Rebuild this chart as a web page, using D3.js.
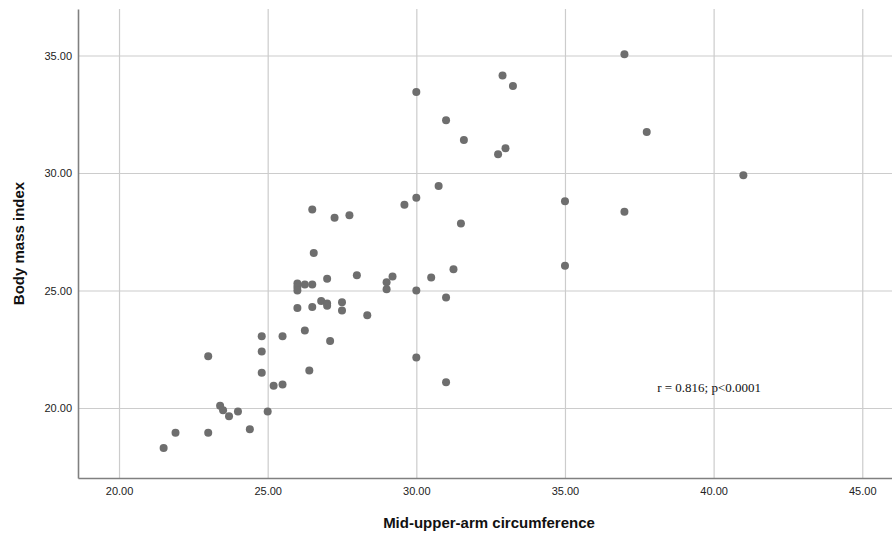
<!DOCTYPE html>
<html>
<head>
<meta charset="utf-8">
<script src="https://cdn.jsdelivr.net/npm/d3@7"></script>
<style>
  body { margin: 0; background: #fff; }
  svg { display: block; }
</style>
</head>
<body>
<div id="container"></div>
<script>

// mid-upper-arm circumference (cm) for each subject
var muac = [
  21.5, 21.9, 23.0, 23.0, 23.4, 23.5, 23.7, 24.0, 24.4, 24.8,
  24.8, 24.8, 25.0, 25.2, 25.5, 25.5, 26.25, 26.4,
  26.5, 27.25, 27.75, 26.55, 26.0, 26.0, 26.0, 26.25, 26.5, 27.0,
  28.0, 29.0, 29.0, 29.2, 29.6, 30.0, 30.0, 26.0, 26.5, 26.8,
  27.0, 27.0, 27.5, 27.5, 28.35, 27.1,
  30.0, 31.0, 31.6, 32.9, 33.25, 33.0, 32.75, 30.75,
  31.5, 31.25, 30.5, 31.0, 30.0, 31.0,
  37.0, 37.75, 41.0, 35.0, 37.0, 35.0
];

// body mass index for the same subjects
var bmi = [
  18.3, 18.95, 18.95, 22.2, 20.1, 19.9, 19.65, 19.85, 19.1, 23.05,
  22.4, 21.5, 19.85, 20.95, 21.0, 23.05, 23.3, 21.6,
  28.45, 28.1, 28.2, 26.6, 25.3, 25.15, 25.0, 25.25, 25.25, 25.5,
  25.65, 25.35, 25.05, 25.6, 28.65, 28.95, 25.0, 24.25, 24.3, 24.55,
  24.45, 24.35, 24.5, 24.15, 23.95, 22.85,
  33.45, 32.25, 31.4, 34.15, 33.7, 31.05, 30.8, 29.45,
  27.85, 25.9, 25.55, 24.7, 22.15, 21.1,
  35.05, 31.75, 29.9, 28.8, 28.35, 26.05
];

var x_ticks = [20, 25, 30, 35, 40, 45];
var y_ticks = [20, 25, 30, 35];
var annotation = "r = 0.816; p<0.0001";

var width = 892, height = 533;
var plot_left = 78, plot_right = 892, plot_top = 9, plot_bottom = 478;

var svg = d3.select("div#container")
  .append("svg")
  .attr("width", width)
  .attr("height", height);

var x = d3.scaleLinear().domain([18.62, 46.0]).range([plot_left, plot_right]);
var y = d3.scaleLinear().domain([17.02, 36.98]).range([plot_bottom, plot_top]);

// grid lines
svg.append("g").selectAll("line").data(x_ticks).enter().append("line")
  .attr("x1", d => x(d) + 0.5).attr("x2", d => x(d) + 0.5)
  .attr("y1", plot_top).attr("y2", plot_bottom)
  .attr("stroke", "#cccccc").attr("stroke-width", 1.2);

svg.append("g").selectAll("line").data(y_ticks).enter().append("line")
  .attr("y1", d => y(d) + 0.5).attr("y2", d => y(d) + 0.5)
  .attr("x1", plot_left).attr("x2", plot_right)
  .attr("stroke", "#cccccc").attr("stroke-width", 1.2);

// axes
var xAxis = svg.append("g")
  .attr("transform", "translate(0," + plot_bottom + ")")
  .call(d3.axisBottom(x).tickValues(x_ticks).tickFormat(d3.format(".2f")).tickSize(0).tickPadding(9));
var yAxis = svg.append("g")
  .attr("transform", "translate(" + plot_left + ",0)")
  .call(d3.axisLeft(y).tickValues(y_ticks).tickFormat(d3.format(".2f")).tickSize(0).tickPadding(6));

[xAxis, yAxis].forEach(function(a) {
  a.select(".domain").attr("stroke", "#808080").attr("stroke-width", 1.6);
  a.selectAll("text")
    .style("font-family", "Liberation Sans, Arial, sans-serif")
    .style("font-size", "11px")
    .attr("fill", "#222");
});

// points
svg.append("g").selectAll("circle").data(muac).enter().append("circle")
  .attr("cx", (d, i) => x(d))
  .attr("cy", (d, i) => y(bmi[i]))
  .attr("r", 4)
  .attr("fill", "#6e6e6e");

// axis titles
svg.append("text")
  .attr("x", (plot_left + plot_right) / 2 + 4).attr("y", 528)
  .attr("text-anchor", "middle")
  .style("font-family", "Liberation Sans, Arial, sans-serif")
  .style("font-size", "15px").style("font-weight", "bold")
  .attr("fill", "#111")
  .text("Mid-upper-arm circumference");

svg.append("text")
  .attr("transform", "translate(24," + ((plot_top + plot_bottom) / 2) + ") rotate(-90)")
  .attr("text-anchor", "middle")
  .style("font-family", "Liberation Sans, Arial, sans-serif")
  .style("font-size", "15px").style("font-weight", "bold")
  .attr("fill", "#111")
  .text("Body mass index");

// correlation note
svg.append("text")
  .attr("x", x(38.1)).attr("y", y(20.66))
  .style("font-family", "Liberation Serif, Times New Roman, serif")
  .style("font-size", "13px")
  .attr("fill", "#111")
  .text(annotation);

</script>
</body>
</html>
